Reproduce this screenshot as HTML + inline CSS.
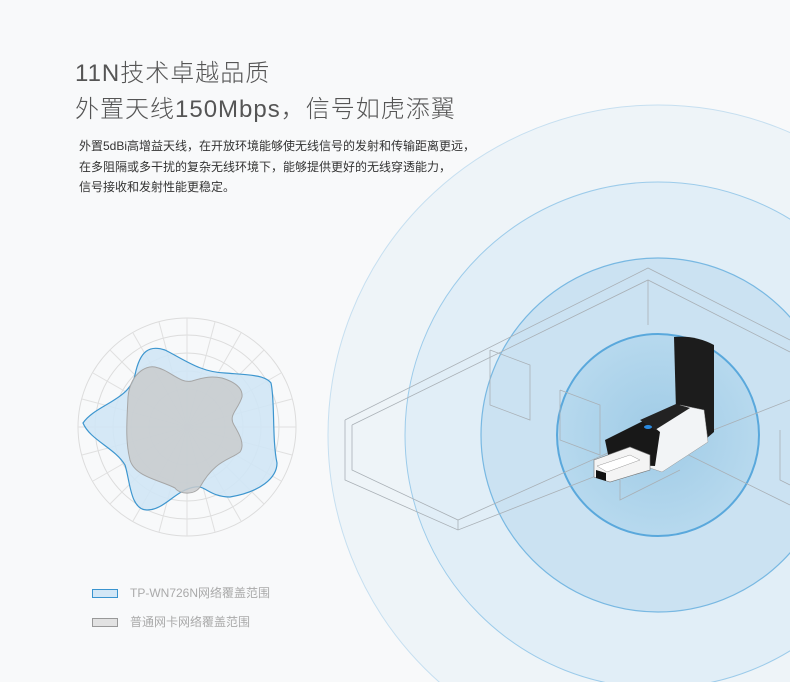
<!DOCTYPE html>
<html><head><meta charset="utf-8"><style>
html,body{margin:0;padding:0;width:790px;height:682px;overflow:hidden}
body{background:#f8f9fa;position:relative;font-family:"Liberation Sans","Noto Sans CJK SC",sans-serif}
.t{position:absolute;left:75px;color:#555;font-weight:300;letter-spacing:1px;white-space:nowrap}
.p{position:absolute;left:79px;top:136px;font-size:12px;line-height:20.5px;color:#333}
.lg{position:absolute;left:92px;font-size:12px;color:#aaa}
.lg i{display:inline-block;width:24px;height:7px;vertical-align:middle;margin-right:12px}
svg{display:block}
</style></head><body>
<svg width="790" height="682" style="position:absolute;left:0;top:0">
<defs><radialGradient id="g1" cx="0.5" cy="0.5" r="0.5"><stop offset="0" stop-color="#9fcbe6"/><stop offset="1" stop-color="#b7d9ee"/></radialGradient></defs>
<circle cx="658" cy="435" r="330" fill="#eef4f8" stroke="#c6dff0" stroke-width="1"/>
<circle cx="658" cy="435" r="253" fill="#e1eef7" stroke="#9ccbea" stroke-width="1"/>
<circle cx="658" cy="435" r="177" fill="#cbe2f2" stroke="#78b8e2" stroke-width="1.2"/>
<circle cx="658" cy="435" r="101" fill="url(#g1)" stroke="#5aa8dc" stroke-width="2"/>
<g fill="none" stroke="#a9b0b6" stroke-width="0.8">
<polyline points="345,420 648,268 790,340"/>
<polyline points="352,425 648,280 790,352"/>
<polyline points="345,420 345,480 458,530 790,400"/>
<polyline points="352,425 352,470 458,520 648,435 790,505"/>
<line x1="648" y1="280" x2="648" y2="325"/>
<polyline points="490,350 490,405 530,420 530,365 490,350"/>
<polyline points="560,390 560,440 600,455 600,405 560,390"/>
<polyline points="620,480 620,500 680,470"/>
<polyline points="780,430 780,480 790,485"/>
<polyline points="458,520 458,530"/>
</g>
<path d="M674,337 Q695,335 714,345 L714,432 L707,438 L684,430 L676,410 Z" fill="#1c1c1c"/>
<polygon points="648,432 680,405 704,410 708,442 662,472 650,468" fill="#f2f4f6" stroke="#999" stroke-width="0.5"/>
<polygon points="605,440 645,420 660,432 655,466 610,464" fill="#181818"/>
<polygon points="640,420 676,404 690,408 655,430" fill="#222"/>
<ellipse cx="648" cy="427" rx="4" ry="2" fill="#2a8ae0"/>
<polygon points="594,460 630,447 650,455 650,470 610,482 594,477" fill="#f4f4f4" stroke="#777" stroke-width="0.6"/>
<polygon points="597,466 630,455 640,460 607,472" fill="#fff" stroke="#999" stroke-width="0.5"/>
<polygon points="596,470 606,473 606,481 596,478" fill="#111"/>
<g transform="translate(187,427)" fill="none" stroke="#dcdcdc" stroke-width="1">
<circle r="109"/><circle r="92"/><circle r="74"/><circle r="56"/><circle r="38"/>
<g stroke="#e0e0e0">
<line x1="-109" y1="0" x2="109" y2="0"/><line x1="0" y1="-109" x2="0" y2="109"/>
<line x1="-94" y1="-54" x2="94" y2="54"/><line x1="-94" y1="54" x2="94" y2="-54"/>
<line x1="-54" y1="-94" x2="54" y2="94"/><line x1="-54" y1="94" x2="54" y2="-94"/>
<line x1="-105" y1="-28" x2="105" y2="28"/><line x1="-105" y1="28" x2="105" y2="-28"/>
<line x1="-28" y1="-105" x2="28" y2="105"/><line x1="-28" y1="105" x2="28" y2="-105"/>
<line x1="-77" y1="-77" x2="77" y2="77"/><line x1="-77" y1="77" x2="77" y2="-77"/>
</g></g>
<path d="M83,423 C95,405 130,400 135,375 C140,350 150,345 165,350 C185,360 200,372 225,373 C250,375 265,375 271,383 C275,400 272,440 277,463 C277,478 260,492 230,497 C210,497 205,485 195,487 C175,490 165,510 147,510 C130,510 130,480 125,465 C115,448 90,440 83,423 Z" fill="#d0e6f5" fill-opacity="0.9" stroke="#3d96cf" stroke-width="1.2"/>
<path d="M128,397 C130,375 145,365 155,367 C170,370 180,384 192,381 C205,377 212,376 222,378 C235,382 243,388 242,397 C238,410 228,415 234,425 C240,435 245,445 240,452 C230,460 215,460 200,487 C195,495 180,495 175,488 C160,480 135,477 130,460 C125,440 127,420 128,397 Z" fill="#c9cbcd" fill-opacity="0.85" stroke="#a6a6a6" stroke-width="1"/>
</svg>
<div class="t" style="top:53px;font-size:24px">11N技术卓越品质</div>
<div class="t" style="top:89px;font-size:24px">外置天线150Mbps，信号如虎添翼</div>
<div class="p">外置5dBi高增益天线，在开放环境能够使无线信号的发射和传输距离更远，<br>在多阻隔或多干扰的复杂无线环境下，能够提供更好的无线穿透能力，<br>信号接收和发射性能更稳定。</div>
<div class="lg" style="top:584px"><i style="background:#d3e7f6;border:1px solid #3a94cf"></i>TP-WN726N网络覆盖范围</div>
<div class="lg" style="top:613px"><i style="background:#e2e2e2;border:1px solid #999"></i>普通网卡网络覆盖范围</div>
</body></html>
